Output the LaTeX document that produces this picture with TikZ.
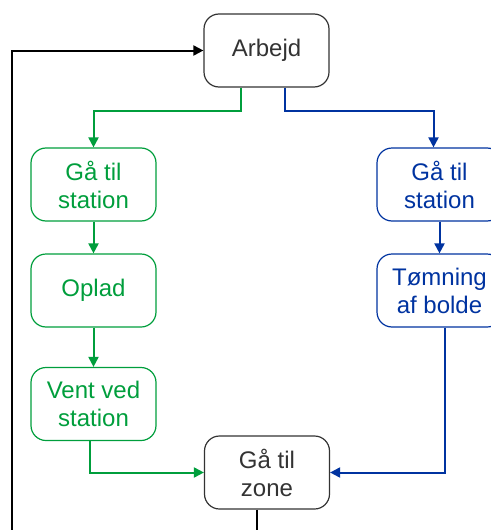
\documentclass[tikz,border=0pt]{standalone}
\usepackage{fontspec}
\setmainfont{Liberation Sans}
\usepackage{tikz}
\usetikzlibrary{arrows.meta, positioning}
\definecolor{textgray}{RGB}{51,51,51}
\definecolor{greenline}{RGB}{0,158,60}
\definecolor{blueline}{RGB}{0,51,160}
\tikzset{
    step box/.style={rectangle, rounded corners=7.5pt, minimum width=62.5pt, minimum height=36.5pt, text centered, draw, line width=0.6pt, align=center, font=\fontsize{12}{14}\selectfont},
    plainbox/.style={step box, draw=textgray, text=textgray},
    greenbox/.style={step box, draw=greenline, text=greenline},
    bluebox/.style={step box, draw=blueline, text=blueline},
    flow/.style={-{Triangle[length=5pt, width=5pt]}, line width=1pt},
    greenflow/.style={flow, greenline},
    blueflow/.style={flow, blueline}
}

\begin{document}
\begin{tikzpicture}[x=0.5pt, y=-0.5pt]
    \useasboundingbox (0,0) rectangle (491,530);
    % Main loop
    \node[plainbox] (arbejd) at (266.5,50.5) {Arbejd};
    \node[plainbox] (zone) at (267,472.5) {Gå til\\zone};

    % Green branch
    \node[greenbox] (gstation) at (93.5,184.5) {Gå til\\station};
    \node[greenbox] (oplad) at (93.5,290.5) {Oplad};
    \node[greenbox] (vent) at (93.5,404) {Vent ved\\station};

    % Blue branch
    \node[bluebox] (bstation) at (439.5,184.5) {Gå til\\station};
    \node[bluebox] (tomning) at (439.5,290.5) {Tømning\\af bolde};

    \coordinate (loop) at (12,560);

    % Connections
    \draw[greenflow] ([xshift=-12.75pt]arbejd.south) -- ++(0,-11.5pt) -| (gstation.north);
    \draw[blueflow] ([xshift=9.25pt]arbejd.south) -- ++(0,-11.5pt) -| ([xshift=-3pt]bstation.north);
    \draw[greenflow] (gstation) -- (oplad);
    \draw[greenflow] (oplad) -- (vent);
    \draw[greenflow] ([xshift=-1.75pt]vent.south) |- (zone.west);
    \draw[blueflow] (bstation) -- (tomning);
    \draw[blueflow] ([xshift=2.5pt]tomning.south) |- (zone.east);
    \draw[flow] ([xshift=-5pt]zone.south) |- (loop) |- (arbejd.west);
\end{tikzpicture}
\end{document}
